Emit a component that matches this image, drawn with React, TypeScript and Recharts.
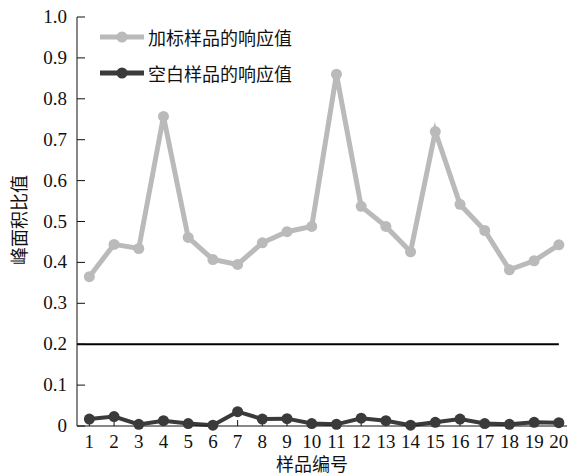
import { LineChart, Line, XAxis, YAxis, ReferenceLine } from "recharts";

const samples = [1, 2, 3, 4, 5, 6, 7, 8, 9, 10, 11, 12, 13, 14, 15, 16, 17, 18, 19, 20];
const spiked = [
  0.365, 0.444, 0.434, 0.757, 0.461, 0.407, 0.395, 0.448, 0.475, 0.488,
  0.86, 0.537, 0.488, 0.426, 0.72, 0.542, 0.478, 0.382, 0.404, 0.443,
];
const blank = [
  0.017, 0.023, 0.004, 0.013, 0.006, 0.002, 0.035, 0.017, 0.018, 0.006,
  0.004, 0.019, 0.013, 0.002, 0.009, 0.017, 0.006, 0.004, 0.009, 0.008,
];
const yTicks = [0, 0.1, 0.2, 0.3, 0.4, 0.5, 0.6, 0.7, 0.8, 0.9, 1.0];
const limit = 0.2;

const SPIKED_NAME = "加标样品的响应值";
const BLANK_NAME = "空白样品的响应值";
const GRAY = "#bababa";
const DARK = "#3a3a3a";
const SERIF = "'Liberation Serif', 'Times New Roman', Times, serif";
const CJK = "'Noto Sans CJK SC', sans-serif";

const data = samples.map((s, i) => ({ sample: s, spiked: spiked[i], blank: blank[i] }));

// legend drawn as an overlay so it doesn't shift the plot area
function LegendBox() {
  const items = [
    { name: SPIKED_NAME, color: GRAY },
    { name: BLANK_NAME, color: DARK },
  ];
  return (
    <div style={{ position: "absolute", left: 100, top: 19 }}>
      {items.map((it) => (
        <div
          key={it.name}
          style={{ display: "flex", alignItems: "center", height: 36, fontFamily: CJK, fontSize: 18, color: "#111" }}
        >
          <svg width={48} height={14}>
            <line x1={0} y1={7} x2={44} y2={7} stroke={it.color} strokeWidth={5} />
            <circle cx={22} cy={7} r={5.5} fill={it.color} />
          </svg>
          <span>{it.name}</span>
        </div>
      ))}
    </div>
  );
}

const XTick = (props: any) => {
  const { x, y, payload } = props;
  return (
    <text x={x} y={y + 14} textAnchor="middle" style={{ fontFamily: SERIF, fontSize: 19 }} fill="#111">
      {payload.value}
    </text>
  );
};

const YTick = (props: any) => {
  const { x, y, payload } = props;
  const v = payload.value as number;
  return (
    <text x={x} y={y + 6} textAnchor="end" style={{ fontFamily: SERIF, fontSize: 19 }} fill="#111">
      {v === 0 ? "0" : v.toFixed(1)}
    </text>
  );
};

export default function App() {
  return (
    <div style={{ position: "absolute", left: 0, top: 0, width: 568, height: 475, background: "#fff" }}>
      <LineChart width={568} height={475} data={data} margin={{ top: 17, right: 1, left: 0, bottom: 0 }}>
        <XAxis
          dataKey="sample"
          type="number"
          domain={[0.5, 20.33]}
          ticks={samples}
          interval={0}
          allowDataOverflow
          height={49}
          tickSize={-6}
          tickMargin={14}
          stroke="#111"
          tick={<XTick />}
          label={{
            content: () => (
              <text x={312} y={471} textAnchor="middle" style={{ fontFamily: CJK, fontSize: 18 }} fill="#111">
                样品编号
              </text>
            ),
          }}
        />
        <YAxis
          type="number"
          domain={[0, 1]}
          ticks={yTicks}
          interval={0}
          width={77}
          tickSize={-8}
          tickMargin={18}
          stroke="#111"
          tick={<YTick />}
          label={{
            content: () => (
              <text
                x={18}
                y={220}
                transform="rotate(-90 18 220)"
                textAnchor="middle"
                dominantBaseline="central"
                style={{ fontFamily: CJK, fontSize: 18 }}
                fill="#111"
              >
                峰面积比值
              </text>
            ),
          }}
        />
        <ReferenceLine
          segment={[
            { x: 0.5, y: limit },
            { x: samples[samples.length - 1], y: limit },
          ]}
          stroke="#000"
          strokeWidth={2}
        />
        <Line
          dataKey="spiked"
          name={SPIKED_NAME}
          stroke={GRAY}
          strokeWidth={5}
          dot={{ r: 5.5, fill: GRAY, stroke: GRAY, strokeWidth: 0 }}
          activeDot={false}
          isAnimationActive={false}
        />
        <Line
          dataKey="blank"
          name={BLANK_NAME}
          stroke={DARK}
          strokeWidth={4}
          dot={{ r: 5.5, fill: DARK, stroke: DARK, strokeWidth: 0 }}
          activeDot={false}
          isAnimationActive={false}
        />
      </LineChart>
      <LegendBox />
    </div>
  );
}
